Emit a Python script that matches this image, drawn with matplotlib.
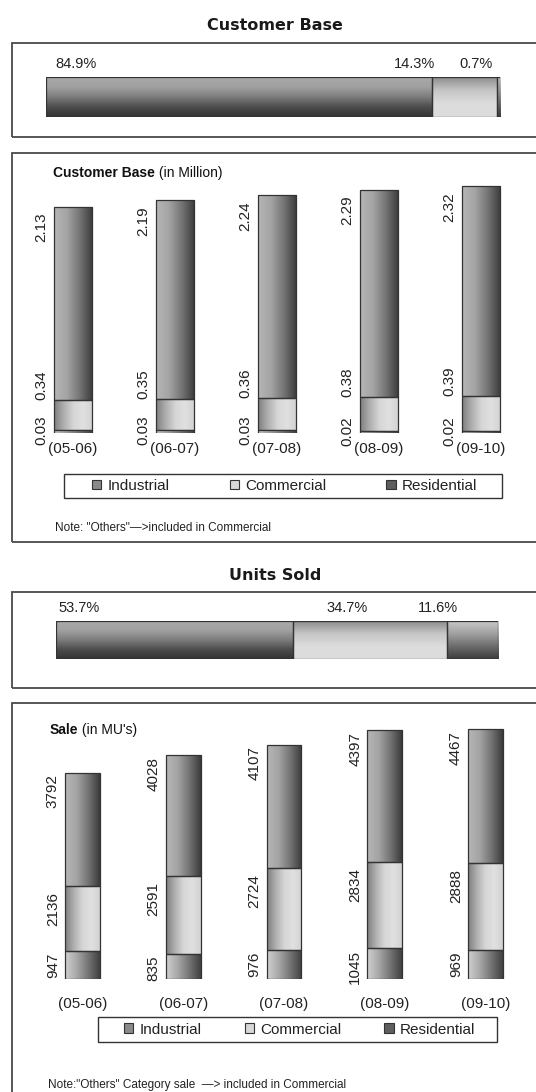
import numpy as np
import matplotlib
matplotlib.use('Agg')
import matplotlib.pyplot as plt
from matplotlib.colors import LinearSegmentedColormap
from matplotlib.patches import Rectangle, Patch
from matplotlib.text import Annotation

plt.rcParams['font.family'] = ['Liberation Sans', 'DejaVu Sans']

# ---------------- data ----------------
years = ['(05-06)', '(06-07)', '(07-08)', '(08-09)', '(09-10)']
categories = ['Industrial', 'Commercial', 'Residential']

cust_industrial = [0.03, 0.03, 0.03, 0.02, 0.02]
cust_commercial = [0.34, 0.35, 0.36, 0.38, 0.39]
cust_residential = [2.13, 2.19, 2.24, 2.29, 2.32]

sale_industrial = [947, 835, 976, 1045, 969]
sale_commercial = [2136, 2591, 2724, 2834, 2888]
sale_residential = [3792, 4028, 4107, 4397, 4467]

# share bars, left to right: Residential, Commercial, Industrial
cust_share = [84.9, 14.3, 0.7]
units_share = [53.7, 34.7, 11.6]

# ---------------- styles ----------------
W, H = 536, 1092
fig = plt.figure(figsize=(W / 100, H / 100), dpi=100)
fig.patch.set_facecolor('white')

def rect(x0, y0, x1, y1):
    return [x0 / W, 1 - y1 / H, (x1 - x0) / W, (y1 - y0) / H]

def fbox(x0, y0, x1, y1, lw=1.3, ec='#4a4a4a'):
    fig.add_artist(Rectangle((x0 / W, 1 - y1 / H), (x1 - x0) / W, (y1 - y0) / H,
                             transform=fig.transFigure, fill=False, ec=ec, lw=lw))

V_COLORS = {
    'Residential': ['#b6b6b6', '#a4a4a4', '#747474', '#3a3a3a'],
    'Commercial': ['#7e7e7e', '#afafaf', '#d6d6d6', '#e0e0e0', '#d2d2d2'],
    'Industrial': ['#d0d0d0', '#a8a8a8', '#747474', '#404040'],
}
H_COLORS = {
    'Residential': ['#aaaaaa', '#a0a0a0', '#7c7c7c', '#4c4c4c', '#333333'],
    'Commercial': ['#8c8c8c', '#c6c6c6', '#dcdcdc', '#dddddd'],
    'Industrial': ['#c8c8c8', '#a0a0a0', '#6c6c6c', '#3c3c3c'],
}
LEG_COLORS = {'Industrial': '#8a8a8a', 'Commercial': '#d8d8d8', 'Residential': '#5e5e5e'}

def grad_fill(ax, patch, colors, direction):
    x, y = patch.get_x(), patch.get_y()
    w, h = patch.get_width(), patch.get_height()
    cmap = LinearSegmentedColormap.from_list('g', colors)
    if direction == 'h':
        data = np.linspace(0, 1, 256).reshape(1, -1)
    else:
        data = np.linspace(0, 1, 256).reshape(-1, 1)
    im = ax.imshow(data, cmap=cmap, extent=[x, x + w, y, y + h], origin='upper',
                   aspect='auto', zorder=1.5, interpolation='bilinear')
    im.set_clip_path(patch)

def clean(ax):
    for s in ax.spines.values():
        s.set_visible(False)
    ax.set_yticks([])
    ax.tick_params(axis='x', length=0)
    ax.patch.set_alpha(0)

# ---------------- frames & titles ----------------
fbox(12, 43, 600, 137)
fbox(12, 153, 600, 542)
fbox(12, 592, 600, 688)
fbox(12, 703, 600, 1200)

fig.text(275 / W, 1 - 25 / H, 'Customer Base', ha='center', va='center',
         fontsize=11.5, fontweight='bold', family=['DejaVu Sans'], color='#1a1a1a')
fig.text(275 / W, 1 - 575 / H, 'Units Sold', ha='center', va='center',
         fontsize=11.5, fontweight='bold', family=['DejaVu Sans'], color='#1a1a1a')

# ---------------- share bars ----------------
share_order = ['Residential', 'Commercial', 'Industrial']

def share_bar(box, shares, label_specs):
    ax = fig.add_axes(rect(*box))
    clean(ax)
    ax.set_xticks([])
    left = 0
    bars = []
    for cat, v in zip(share_order, shares):
        b = ax.barh(0, v, left=left, height=1, facecolor='none',
                    edgecolor='#333333', lw=0.9, zorder=2)[0]
        grad_fill(ax, b, H_COLORS[cat], 'v')
        bars.append((left, v))
        left += v
    ax.set_xlim(0, sum(shares))
    ax.set_ylim(-0.5, 0.5)
    for (l, v), (anchor, dx, ha), s in zip(bars, label_specs, shares):
        xref = l if anchor == 'start' else l + v
        ax.annotate(f'{s:.1f}%', xy=(xref, 0.5), xytext=(dx, 13), textcoords='offset pixels',
                    ha=ha, va='center', fontsize=10.5, color='#222222', annotation_clip=False)
    return ax

share_bar((46, 77, 500, 117), cust_share,
          [('start', 9, 'left'), ('start', 3, 'right'), ('end', -7, 'right')])
share_bar((56, 621, 498, 659), units_share,
          [('start', 2, 'left'), ('end', -79, 'right'), ('start', 11, 'right')])

# ---------------- stacked columns ----------------
def stacked(box, ylim_top, width, ind, com, res, fmt, offsets, tick_pad):
    ax = fig.add_axes(rect(*box))
    clean(ax)
    x = np.arange(len(years))
    bottoms = np.zeros(len(years))
    for cat, vals in zip(categories, [ind, com, res]):
        bars = ax.bar(x, vals, width, bottom=bottoms, facecolor='none',
                      edgecolor='#333333', lw=0.9, zorder=2)
        for b in bars:
            grad_fill(ax, b, V_COLORS[cat], 'h')
        bottoms = bottoms + np.array(vals)
    ax.set_xlim(-0.5, len(years) - 0.5)
    ax.set_ylim(0, ylim_top)
    ax.set_xticks(x)
    ax.set_xticklabels(years, fontsize=11, color='#222222')
    ax.tick_params(axis='x', pad=tick_pad)
    cum = np.zeros(len(years))
    for k, vals in enumerate([ind, com, res]):
        dy, va = offsets[k]
        for i, v in enumerate(vals):
            ax.annotate(fmt(v), xy=(x[i] - width / 2, cum[i] + v), xytext=(-12, dy),
                        textcoords='offset pixels', rotation=90, ha='center', va=va,
                        fontsize=11, color='#222222', annotation_clip=False)
        cum = cum + np.array(vals)
    return ax

cust_scale = 90.5  # px per million
stacked((22, 170, 532, 433), (433 - 170) / cust_scale, 0.38,
        cust_industrial, cust_commercial, cust_residential,
        lambda v: f'{v:.2f}',
        [(0, 'center'), (0, 'bottom'), (-6, 'top')], 6.5)

sale_scale = 250 / 8324.0
stacked((32, 715, 536, 979), (979 - 715) / sale_scale, 0.347,
        sale_industrial, sale_commercial, sale_residential,
        lambda v: f'{v:d}',
        [(-2, 'top'), (-6, 'top'), (-2, 'top')], 13)

# ---------------- chart titles ----------------
t1 = fig.text(53 / W, 1 - 173 / H, 'Customer Base', ha='left', va='center',
              fontsize=10, fontweight='bold', color='#111111')
fig.add_artist(Annotation(' (in Million)', xy=(1, 0.5), xycoords=t1, va='center', ha='left',
                          fontsize=10, color='#111111'))

t2 = fig.text(50 / W, 1 - 730 / H, 'Sale', ha='left', va='center',
              fontsize=10, fontweight='bold', color='#111111')
fig.add_artist(Annotation(" (in MU's)", xy=(1, 0.5), xycoords=t2, va='center', ha='left',
                          fontsize=10, color='#111111'))

# ---------------- legends ----------------
def legend_box(x0, y0, x1, y1, inner_l, inner_r):
    fbox(x0, y0, x1, y1, lw=1.0, ec='#333333')
    handles = [Patch(facecolor=LEG_COLORS[c], edgecolor='#333333', lw=0.8) for c in categories]
    leg = fig.legend(handles, categories, loc='center', ncol=3, mode='expand',
                     bbox_to_anchor=((x0 + inner_l) / W, 1 - y1 / H,
                                     (x1 - x0 - inner_l - inner_r) / W, (y1 - y0) / H),
                     bbox_transform=fig.transFigure, frameon=False, fontsize=11,
                     handlelength=0.6, handleheight=0.6, handletextpad=0.4,
                     borderaxespad=0, borderpad=0)
    for t in leg.get_texts():
        t.set_color('#222222')

legend_box(64, 474, 502, 498, 28, 25)
legend_box(98, 1017, 497, 1042, 26, 22)

# ---------------- notes ----------------
fig.text(55 / W, 1 - 528 / H, 'Note: "Others"\u2014>included in Commercial', ha='left',
         va='center', fontsize=8.5, color='#222222')
fig.text(48 / W, 1 - 1085 / H, 'Note:"Others" Category sale  \u2014> included in Commercial',
         ha='left', va='center', fontsize=8.5, color='#222222')

fig.savefig('out.png', dpi=100, facecolor='white')
